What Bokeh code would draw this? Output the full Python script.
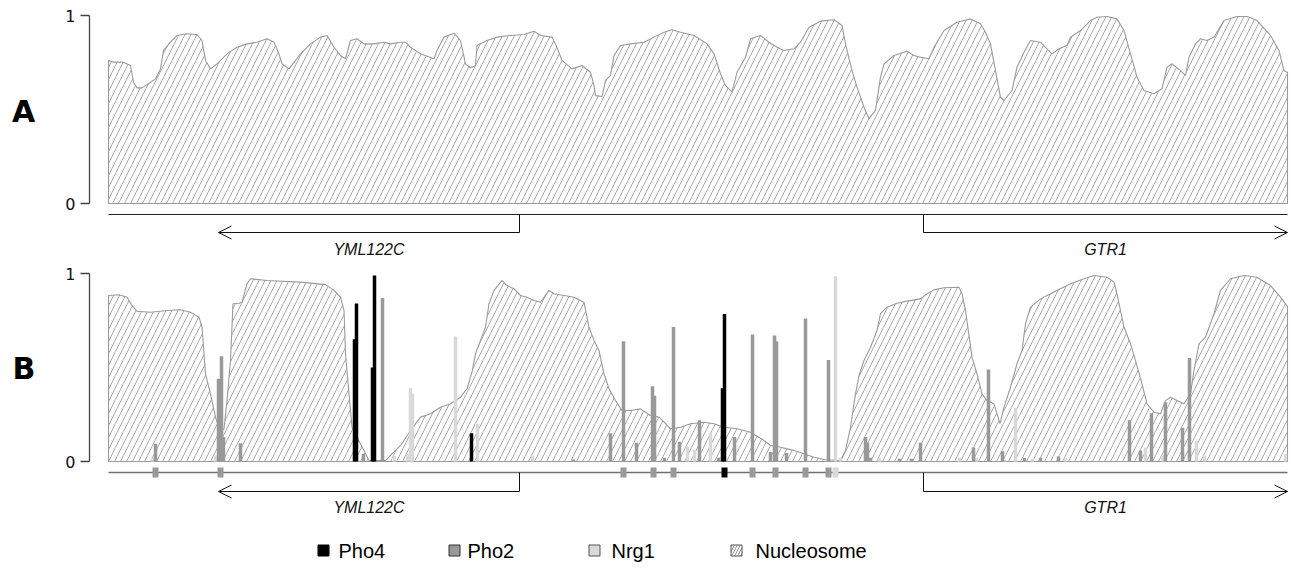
from bokeh.plotting import figure
from bokeh.models import Range1d, Arrow, OpenHead, FixedTicker
from bokeh.layouts import column
from bokeh.embed import file_html
from bokeh.resources import INLINE
from bokeh.core.properties import value

# ---------------- data ----------------
REGION_END = 2358  # bp shown

# nucleosome occupancy, panel A
nuc_a_pos = [0, 10, 27, 34, 44, 50, 57, 67, 84, 94, 104, 110, 124, 137, 157, 177, 187, 194, 204, 217,
             237, 257, 277, 297, 317, 331, 341, 347, 361, 384, 404, 424, 437, 451, 464, 474, 484, 497, 511, 531,
             551, 564, 584, 594, 604, 624, 651, 657, 671, 691, 704, 714, 724, 734, 737, 757, 777, 804, 831, 851,
             864, 887, 897, 907, 927, 947, 964, 971, 974, 987, 994, 1004, 1011, 1024, 1044, 1071, 1091, 1111, 1127, 1144,
             1171, 1197, 1211, 1224, 1234, 1247, 1257, 1274, 1284, 1304, 1321, 1337, 1351, 1371, 1384, 1401, 1424, 1451, 1467, 1474,
             1487, 1497, 1511, 1521, 1534, 1544, 1551, 1571, 1597, 1611, 1624, 1641, 1651, 1671, 1697, 1724, 1744, 1754, 1764, 1774,
             1784, 1791, 1807, 1817, 1831, 1844, 1864, 1877, 1887, 1901, 1917, 1924, 1944, 1964, 1977, 1997, 2017, 2031, 2044, 2057,
             2071, 2091, 2107, 2117, 2127, 2144, 2154, 2161, 2174, 2184, 2197, 2211, 2231, 2257, 2277, 2297, 2324, 2341, 2351, 2358]
nuc_a_val = [0.761, 0.752, 0.752, 0.746, 0.734, 0.645, 0.615, 0.615, 0.645, 0.663, 0.716, 0.814, 0.858, 0.894, 0.903, 0.899, 0.867, 0.761, 0.716, 0.743,
             0.796, 0.831, 0.849, 0.858, 0.876, 0.858, 0.796, 0.743, 0.716, 0.796, 0.849, 0.885, 0.894, 0.831, 0.787, 0.770, 0.867, 0.876, 0.849, 0.849,
             0.858, 0.849, 0.858, 0.858, 0.831, 0.796, 0.770, 0.814, 0.885, 0.906, 0.867, 0.743, 0.722, 0.734, 0.840, 0.867, 0.885, 0.894, 0.899, 0.916,
             0.894, 0.885, 0.831, 0.761, 0.716, 0.734, 0.698, 0.628, 0.574, 0.569, 0.654, 0.681, 0.787, 0.840, 0.849, 0.858, 0.885, 0.911, 0.924, 0.911,
             0.894, 0.849, 0.796, 0.690, 0.628, 0.592, 0.698, 0.778, 0.876, 0.894, 0.858, 0.831, 0.814, 0.823, 0.858, 0.938, 0.970, 0.977, 0.947, 0.849,
             0.707, 0.619, 0.512, 0.451, 0.495, 0.672, 0.743, 0.787, 0.810, 0.787, 0.778, 0.770, 0.831, 0.920, 0.964, 0.982, 0.956, 0.911, 0.849, 0.707,
             0.565, 0.548, 0.601, 0.725, 0.805, 0.867, 0.858, 0.823, 0.796, 0.823, 0.840, 0.885, 0.920, 0.973, 0.991, 0.995, 0.982, 0.920, 0.796, 0.672,
             0.601, 0.584, 0.610, 0.725, 0.743, 0.707, 0.681, 0.778, 0.849, 0.876, 0.867, 0.885, 0.973, 0.995, 0.995, 0.973, 0.894, 0.814, 0.707, 0.697]

# nucleosome occupancy, panel B
nuc_b_pos = [0, 21, 37, 47, 57, 84, 117, 144, 164, 181, 187, 194, 204, 214, 224, 231, 237, 244, 249, 261,
             267, 277, 284, 317, 384, 434, 451, 464, 471, 474, 481, 487, 497, 511, 521, 554, 567, 584, 604, 624,
             644, 664, 684, 704, 717, 727, 734, 744, 754, 761, 771, 787, 797, 811, 824, 837, 851, 864, 881, 891,
             911, 931, 951, 961, 971, 981, 991, 1001, 1014, 1027, 1044, 1064, 1084, 1101, 1114, 1124, 1144, 1164, 1191, 1211,
             1231, 1257, 1284, 1311, 1324, 1344, 1371, 1391, 1411, 1434, 1464, 1474, 1484, 1494, 1501, 1511, 1524, 1537, 1544, 1557,
             1577, 1597, 1624, 1637, 1651, 1671, 1701, 1707, 1714, 1727, 1737, 1747, 1757, 1771, 1783, 1791, 1804, 1817, 1827, 1834,
             1844, 1864, 1884, 1904, 1924, 1951, 1971, 1997, 2011, 2017, 2031, 2044, 2054, 2067, 2077, 2091, 2104, 2114, 2124, 2137,
             2151, 2164, 2171, 2181, 2194, 2211, 2224, 2244, 2271, 2297, 2324, 2344, 2358]
nuc_b_val = [0.883, 0.887, 0.874, 0.830, 0.799, 0.794, 0.803, 0.807, 0.794, 0.768, 0.714, 0.466, 0.360, 0.236, 0.156, 0.174, 0.324, 0.537, 0.839, 0.842,
             0.847, 0.945, 0.972, 0.963, 0.954, 0.941, 0.910, 0.874, 0.803, 0.573, 0.360, 0.182, 0.129, 0.059, 0.005, 0.005, 0.041, 0.085, 0.165, 0.236,
             0.254, 0.289, 0.307, 0.342, 0.387, 0.475, 0.573, 0.644, 0.714, 0.839, 0.910, 0.963, 0.936, 0.919, 0.883, 0.874, 0.856, 0.847, 0.910, 0.892,
             0.883, 0.874, 0.847, 0.714, 0.644, 0.590, 0.466, 0.387, 0.324, 0.271, 0.271, 0.280, 0.245, 0.236, 0.201, 0.174, 0.182, 0.201, 0.209, 0.201,
             0.182, 0.174, 0.156, 0.112, 0.085, 0.076, 0.059, 0.041, 0.023, 0.009, 0.005, 0.059, 0.182, 0.360, 0.457, 0.537, 0.608, 0.697, 0.786, 0.821,
             0.842, 0.853, 0.865, 0.892, 0.913, 0.924, 0.927, 0.892, 0.803, 0.555, 0.466, 0.360, 0.324, 0.307, 0.201, 0.289, 0.395, 0.520, 0.590, 0.732,
             0.821, 0.865, 0.892, 0.919, 0.945, 0.972, 0.989, 0.980, 0.954, 0.892, 0.714, 0.626, 0.537, 0.413, 0.307, 0.262, 0.254, 0.324, 0.342, 0.324,
             0.307, 0.360, 0.484, 0.626, 0.661, 0.786, 0.910, 0.972, 0.989, 0.980, 0.936, 0.874, 0.824]

# transcription factor binding (panel B)
pho4_pos = [492, 496, 528, 532, 726, 1228, 1232]
pho4_h = [0.65, 0.84, 0.50, 0.99, 0.15, 0.39, 0.785]

pho2_pos = [94, 220, 226, 230, 264, 510, 548, 930, 1004, 1030, 1056, 1088, 1092, 1112, 1130, 1142, 1182, 1220, 1252, 1288,
            1324, 1332, 1336, 1356, 1394, 1440, 1514, 1518, 1524, 1582, 1606, 1624, 1730, 1760, 1788, 1832, 1864, 1900, 2042, 2064,
            2086, 2114, 2148, 2162]
pho2_h = [0.094, 0.44, 0.56, 0.13, 0.097, 0.04, 0.87, 0.01, 0.15, 0.64, 0.10, 0.40, 0.35, 0.02, 0.715, 0.105, 0.22, 0.02, 0.13, 0.675,
          0.05, 0.67, 0.64, 0.045, 0.76, 0.54, 0.13, 0.10, 0.02, 0.015, 0.015, 0.10, 0.075, 0.49, 0.055, 0.018, 0.02, 0.027, 0.22, 0.058,
          0.257, 0.315, 0.18, 0.55]

nrg1_pos = [88, 214, 572, 598, 604, 608, 694, 738, 848, 1158, 1172, 1204, 1454, 1464, 1542, 1702, 1736, 1792, 1814, 1848,
            1914, 2074, 2108, 2176, 2192, 2354]
nrg1_h = [0.02, 0.03, 0.03, 0.04, 0.39, 0.36, 0.665, 0.20, 0.03, 0.08, 0.062, 0.15, 0.985, 0.02, 0.02, 0.02, 0.02, 0.01, 0.285, 0.015,
          0.02, 0.073, 0.03, 0.11, 0.03, 0.04]

# binding-site motifs on the track of panel B
site_pos = [94, 224, 1030, 1090, 1130, 1232, 1288, 1334, 1394, 1440, 1454]
site_tf = ["Pho2", "Pho2", "Pho2", "Pho2", "Pho2", "Pho4", "Pho2", "Pho2", "Pho2", "Pho2", "Nrg1"]

# genes
gene_names = ["YML122C", "GTR1"]
gene_start = [822, 1630]
gene_end = [220, 2358]

legend_labels = ["Pho4", "Pho2", "Nrg1", "Nucleosome"]

# ---------------- style ----------------
TF_COLORS = {"Pho4": "#000000", "Pho2": "#999999", "Nrg1": "#d9d9d9"}
NUC_LINE = "#9a9a9a"
HATCH = "#aaaaaa"
W = 1291
FRAME_LEFT = 89
PX_PER_BP = 0.5
X0 = -19 / PX_PER_BP
X1 = X0 + (W - FRAME_LEFT) / PX_PER_BP
TRACK_Y = -0.0585
LABEL_Y = -0.2447


def make_panel(height, y0, y1, nuc_pos, nuc_val, letter, letter_lh, arrow_y, track_color, track_w):
    p = figure(width=W, height=height, x_range=Range1d(X0, X1), y_range=Range1d(y0, y1),
               output_backend="svg", toolbar_location=None, x_axis_location=None,
               y_axis_location="left", min_border_left=FRAME_LEFT, min_border_right=0,
               min_border_top=0, min_border_bottom=0)
    p.outline_line_color = None
    p.xgrid.visible = False
    p.ygrid.visible = False
    ax = p.yaxis[0]
    ax.ticker = FixedTicker(ticks=[0, 1])
    ax.bounds = (0, 1)
    ax.axis_line_color = "#444444"
    ax.axis_line_width = 1.3
    ax.major_tick_line_color = "#444444"
    ax.major_tick_line_width = 1.3
    ax.major_tick_out = 9
    ax.major_tick_in = 0
    ax.minor_tick_out = 0
    ax.minor_tick_in = 0
    ax.major_label_text_font = "DejaVu Sans"
    ax.major_label_text_font_size = "16px"
    ax.major_label_text_color = "#111111"
    ax.major_label_standoff = 5
    # panel letter as the axis label (a blank second line lifts it to the panel's middle)
    ax.axis_label = letter + "\n "
    ax.axis_label_orientation = "horizontal"
    ax.axis_label_text_font = "DejaVu Sans"
    ax.axis_label_text_font_style = "bold"
    ax.axis_label_text_font_size = "30px"
    ax.axis_label_text_line_height = letter_lh
    ax.axis_label_text_color = "#000000"
    ax.axis_label_standoff = 27

    # nucleosome area
    xs = [nuc_pos[0]] + list(nuc_pos) + [nuc_pos[-1]]
    ys = [0] + list(nuc_val) + [0]
    p.patch(xs, ys, fill_color="white", line_color=NUC_LINE, line_width=1.1,
            hatch_pattern="/", hatch_color=HATCH, hatch_scale=12, hatch_weight=1)

    # gene track
    p.segment(x0=[0], y0=[TRACK_Y], x1=[REGION_END], y1=[TRACK_Y],
              line_color=track_color, line_width=track_w)
    for name, gs, ge in zip(gene_names, gene_start, gene_end):
        p.segment(x0=[gs], y0=[TRACK_Y], x1=[gs], y1=[arrow_y], line_color="#111111", line_width=1)
        p.add_layout(Arrow(end=OpenHead(size=13, line_color="#111111", line_width=1),
                           x_start=gs, y_start=arrow_y, x_end=ge, y_end=arrow_y,
                           line_color="#111111", line_width=1))
    p.text(x=[(s + e) / 2 for s, e in zip(gene_start, gene_end)], y=[LABEL_Y] * len(gene_names),
           text=gene_names, text_font=value("Liberation Sans"), text_font_style="italic",
           text_font_size="16px", text_align="center", text_baseline="middle", text_color="#111111")
    return p


pA = make_panel(262, -(262 - 203) / 188, 203 / 188, nuc_a_pos, nuc_a_val, "A", 1.15,
                -0.1543, "#222222", 1)
pB = make_panel(258, -(520 - 461) / 188, (461 - 262) / 188, nuc_b_pos, nuc_b_val, "B", 1.29,
                -0.1596, "#707070", 1.6)

# binding bars
for pos, h, tf in ((nrg1_pos, nrg1_h, "Nrg1"), (pho2_pos, pho2_h, "Pho2"), (pho4_pos, pho4_h, "Pho4")):
    pB.vbar(x=pos, top=h, bottom=0, width=7, fill_color=TF_COLORS[tf], line_color=None)

# motif sites
pB.rect(x=site_pos, y=[TRACK_Y] * len(site_pos), width=6, height=10,
        width_units="screen", height_units="screen",
        fill_color=[TF_COLORS[t] for t in site_tf], line_color=None)

# legend strip (x in page pixels)
LH = 51
pL = figure(width=W, height=LH, x_range=Range1d(FRAME_LEFT, W), y_range=Range1d(0, LH),
            output_backend="svg", toolbar_location=None, x_axis_location=None, y_axis_location=None,
            min_border_left=FRAME_LEFT, min_border_right=0, min_border_top=0, min_border_bottom=0)
pL.outline_line_color = None
pL.xgrid.visible = False
pL.ygrid.visible = False
leg_x = [323, 454, 594, 736]
leg_tx = [338, 467, 611, 755]
LEG_Y = 21
leg_fill = [TF_COLORS["Pho4"], TF_COLORS["Pho2"], TF_COLORS["Nrg1"], "white"]
leg_line = ["#000000", "#333333", "#555555", "#555555"]
for i in range(3):
    pL.scatter(x=[leg_x[i]], y=[LEG_Y], marker="square", size=11, fill_color=leg_fill[i], line_color=leg_line[i])
pL.scatter(x=[leg_x[3]], y=[LEG_Y], marker="square", size=11, fill_color="white", line_color=leg_line[3],
           hatch_pattern="/", hatch_color="#777777", hatch_scale=6, hatch_weight=0.8)
pL.text(x=leg_tx, y=[LEG_Y] * 4, text=legend_labels, text_font=value("Liberation Sans"),
        text_font_size="20px", text_align="left", text_baseline="middle", text_color="#000000")

layout = column(pA, pB, pL, spacing=0)
open("out.html", "w").write(file_html(layout, INLINE))
